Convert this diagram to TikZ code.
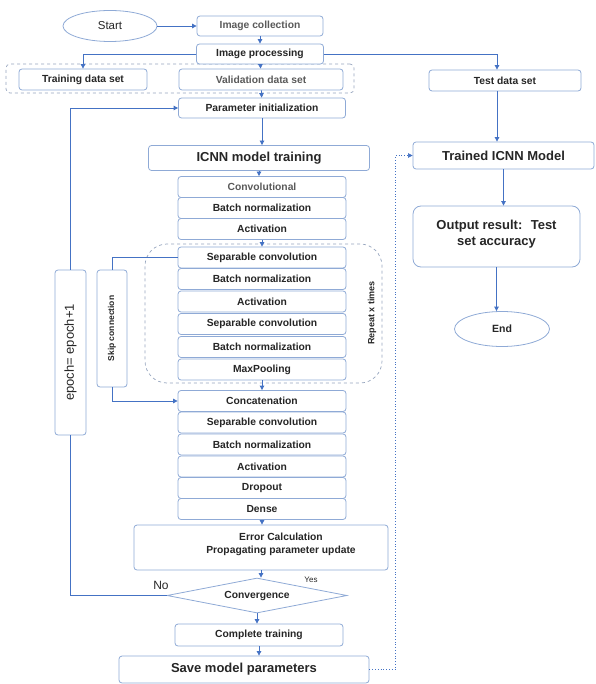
\documentclass[tikz,border=0pt]{standalone}
\usepackage{fontspec}
\usepackage{graphicx}
\setmainfont{Liberation Sans}
\usetikzlibrary{shapes.geometric,arrows.meta}
\definecolor{boxblue}{RGB}{143,170,214}
\definecolor{flowblue}{RGB}{68,114,196}
\definecolor{darktext}{RGB}{38,38,38}
\definecolor{greytext}{RGB}{90,90,90}
\definecolor{dashgrey}{RGB}{150,165,190}
\tikzset{
    procbox/.style={draw=boxblue, fill=white, line width=0.8pt, rounded corners=3pt, inner sep=1pt, text=darktext, align=center},
    layerbox/.style={procbox, minimum width=168, minimum height=21, font=\fontsize{10.3}{12}\selectfont\bfseries},
    bigbox/.style={procbox, font=\fontsize{13}{15.5}\selectfont\bfseries},
    terminal/.style={draw=boxblue, fill=white, line width=0.8pt, ellipse, inner sep=0pt, text=darktext},
    groupbox/.style={draw=dashgrey, dashed, line width=0.7pt, rounded corners=4pt},
    arr/.style={flowblue, line width=0.8pt, -{Triangle[length=4.5pt,width=4.5pt]}},
    link/.style={flowblue, line width=0.8pt}
}
\begin{document}
\begin{tikzpicture}[x=1pt,y=-1pt]
    \useasboundingbox (0,0) rectangle (595,684);

    % dashed groups
    \node[groupbox, minimum width=348, minimum height=29] (data) at (180,78.5) {};
    \node[groupbox, rounded corners=22pt, minimum width=237, minimum height=139] (repeat) at (263.5,313.5) {};
    \node[rotate=90, font=\fontsize{9}{11}\selectfont\bfseries, text=darktext] (times) at (372,313) {Repeat x times};

    % top part
    \node[terminal, minimum width=94, minimum height=31, font=\fontsize{11.5}{13}\selectfont] (start) at (110,26) {Start};
    \node[layerbox, minimum width=126, minimum height=20, text=greytext] (imgcol) at (260,26) {Image collection};
    \node[layerbox, minimum width=127, minimum height=20] (imgproc) at (260,54) {Image processing};
    \node[layerbox, minimum width=128] (train) at (83,79.5) {Training data set};
    \node[layerbox, minimum width=164, text=greytext] (valid) at (261,79.5) {Validation data set};
    \node[layerbox, minimum width=152] (test) at (505,80.5) {Test data set};
    \node[layerbox, minimum width=167, minimum height=20] (param) at (262,108) {Parameter initialization};
    \node[bigbox, minimum width=221, minimum height=25] (icnn) at (259,158) {ICNN model training};

    % layers
    \foreach \n/\y/\t/\c in {conv/187/Convolutional/greytext, bnA/208/Batch normalization/darktext,
        actA/229/Activation/darktext, sepA/257.5/Separable convolution/darktext,
        bnB/279/Batch normalization/darktext, actB/301.5/Activation/darktext,
        sepB/324/Separable convolution/darktext, bnC/347/Batch normalization/darktext,
        maxp/369.5/MaxPooling/darktext, concat/401/Concatenation/darktext,
        sepC/422.5/Separable convolution/darktext, bnD/444.5/Batch normalization/darktext,
        actC/466.5/Activation/darktext, drop/488/Dropout/darktext, dense/509/Dense/darktext}
        \node[layerbox, text=\c] (\n) at (262,\y) {\t};

    % side boxes
    \node[procbox, minimum width=31, minimum height=165, font=\fontsize{13}{15}\selectfont] (epoch) at (70.5,352.5) {\rotatebox{90}{epoch= epoch+1}};
    \node[procbox, minimum width=30, minimum height=117, font=\fontsize{8.5}{10}\selectfont\bfseries] (skip) at (112,328.5) {\rotatebox{90}{Skip connection}};

    % bottom part
    \node[procbox, minimum width=254, minimum height=45, font=\fontsize{10.3}{13}\selectfont\bfseries] (error) at (261,547.5) {\hspace*{40pt}Error Calculation\\\hspace*{40pt}Propagating parameter update\\[-5pt]\mbox{}};
    \node[draw=boxblue, fill=white, line width=0.8pt, diamond, aspect=5, inner sep=1pt, minimum width=180, minimum height=35, font=\fontsize{10.3}{12}\selectfont\bfseries, text=darktext] (converge) at (257,595.5) {Convergence};
    \node[font=\fontsize{12}{14}\selectfont, text=darktext] (no) at (161,585) {No};
    \node[font=\fontsize{8}{10}\selectfont, text=darktext] (yes) at (311,580) {Yes};
    \node[layerbox, minimum width=168, minimum height=22] (complete) at (259,635) {Complete training};
    \node[bigbox, minimum width=250, minimum height=27] (save) at (244,669.5) {Save model parameters};

    % right part
    \node[bigbox, minimum width=181, minimum height=27] (trained) at (503.5,155.5) {Trained ICNN Model};
    \node[bigbox, minimum width=167, minimum height=61, rounded corners=8pt] (output) at (496.5,236.5) {Output result:~ Test\\set accuracy\\[-8pt]\mbox{}};
    \node[terminal, minimum width=95, minimum height=35, font=\fontsize{10.5}{12}\selectfont\bfseries] (finish) at (502,329) {End};

    % connectors
    \draw[arr] (start) -- (imgcol);
    \draw[arr] (imgcol) -- (imgproc);
    \draw[arr] (imgproc.west) -| (train.north);
    \draw[arr] (imgproc.east) -| ([xshift=-8pt]test.north);
    \draw[arr] (imgproc) -- (valid);
    \draw[arr] (valid) -- (param);
    \draw[arr] (param) -- (param |- icnn.north);
    \draw[arr] (icnn) -- (icnn |- conv.north);
    \draw[arr] (actA) -- (sepA);
    \draw[arr] (maxp) -- (concat);
    \draw[arr] (dense) -- (dense |- error.north);
    \draw[arr] (error) -- (error |- converge.north);
    \draw[arr] (converge) -- (converge |- complete.north);
    \draw[arr] (complete) -- (complete |- save.north);
    \draw[link] (converge.west) -| (epoch.south);
    \draw[arr] (epoch.north) |- (param.west);
    \draw[link] (sepA.west) -| (skip.north);
    \draw[arr] (skip.south) |- (concat.west);
    \draw[arr] ([xshift=-8pt]test.south) -- ([xshift=-8pt]test.south |- trained.north);
    \draw[arr] (trained) -- (trained |- output.north);
    \draw[arr] (output) -- (output |- finish.north);
    \draw[arr, dotted, line width=0.6pt] (save.east) -- ++(26,0) |- (trained.west);
\end{tikzpicture}
\end{document}
